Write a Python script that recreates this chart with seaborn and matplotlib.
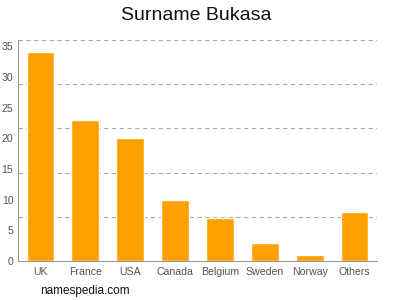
import matplotlib
matplotlib.use("Agg")
import matplotlib.pyplot as plt
import seaborn as sns
import pandas as pd

countries = ["UK", "France", "USA", "Canada", "Belgium", "Sweden", "Norway", "Others"]
counts = [34, 23, 20, 10, 7, 3, 1, 8]
yticks = [0, 5, 10, 15, 20, 25, 30, 35]

df = pd.DataFrame({"country": countries, "count": counts})

sns.set_style("white")
plt.rcParams['font.family'] = ['Liberation Sans', 'DejaVu Sans']

fig = plt.figure(figsize=(4, 3), dpi=100)
ax = fig.add_axes([0.045, 0.13, 0.8975, 0.7367])

sns.barplot(data=df, x="country", y="count", color="#FFA000", width=0.62,
            saturation=1, ax=ax)

ymax = 36
ax.set_ylim(0, ymax)
ax.set_xlim(-0.5, len(countries) - 0.5)
for k in range(1, 6):
    ax.axhline(ymax * k / 5, color="#aaaaaa", linestyle=(0, (4, 3)), linewidth=0.8, zorder=0)

ax.set_yticks(yticks)
ax.set_yticklabels([str(v) for v in yticks])
ax.set_xlabel("")
ax.set_ylabel("")
for s in ["top", "right"]:
    ax.spines[s].set_visible(False)
for s in ["left", "bottom"]:
    ax.spines[s].set_color("#999999")
    ax.spines[s].set_linewidth(0.8)
ax.tick_params(axis="both", colors="#999999", length=2.5, width=0.8, labelsize=7.6, labelcolor="#555555")
ax.tick_params(axis="x", pad=2)
ax.tick_params(axis="y", pad=0.8)

fig.text(0.49, 0.95, "Surname Bukasa", ha="center", va="center", fontsize=14, color="#111111")
fig.text(0.1, 0.03, "namespedia.com", ha="left", va="center", fontsize=8.5, color="#111111")

fig.savefig("out.png", dpi=100)
